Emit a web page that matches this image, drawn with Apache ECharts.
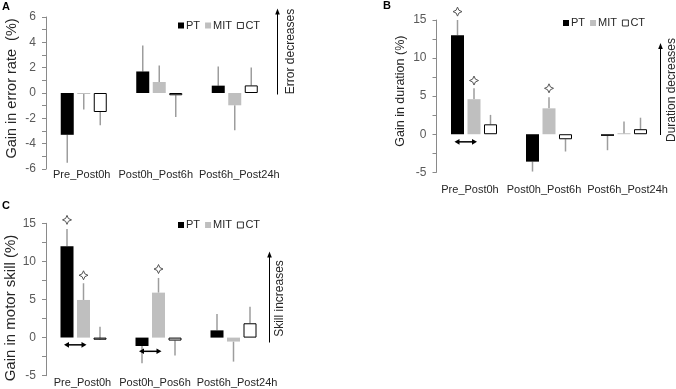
<!DOCTYPE html>
<html>
<head>
<meta charset="utf-8">
<script src="https://cdn.jsdelivr.net/npm/echarts@6/dist/echarts.min.js"></script>
<style>
  html, body { margin: 0; padding: 0; background: #fff; }
  #chart { width: 676px; height: 389px; }
</style>
</head>
<body>
<div id="chart"></div>
<script>
// categories
const catsAB = ['Pre_Post0h', 'Post0h_Post6h', 'Post6h_Post24h']
const catsC = ['Pre_Post0h', 'Post0h_Pos6h', 'Post6h_Post24h']
const groups = ['PT', 'MIT', 'CT']

// A: gain in error rate (bar value, end of error bar)
const errPT = [-3.3, 1.7, 0.58]
const errPTsd = [-5.5, 3.75, 2.1]
const errMIT = [-0.06, 0.87, -0.97]
const errMITsd = [-1.3, 2.18, -2.95]
const errCT = [-1.5, -0.18, 0.6]
const errCTsd = [-2.55, -1.9, 2.02]

// B: gain in duration
const durPT = [13.0, -3.6, -0.22]
const durPTsd = [15.0, -4.9, -2.1]
const durMIT = [4.6, 3.4, 0.06]
const durMITsd = [6.03, 4.85, 1.66]
const durCT = [1.3, -0.66, 0.66]
const durCTsd = [2.54, -2.27, 2.17]

// C: gain in motor skill
const sklPT = [12.0, -1.1, 0.95]
const sklPTsd = [14.25, -3.37, 3.1]
const sklMIT = [4.94, 5.9, -0.52]
const sklMITsd = [7.13, 7.83, -3.15]
const sklCT = [-0.28, -0.39, 1.88]
const sklCTsd = [1.44, -2.36, 4.05]

// significance stars: [category, group index, y]
const durStars = [[0, 0, 16.1], [0, 1, 7.05], [1, 1, 6.03]]
const sklStars = [[0, 0, 15.45], [0, 1, 8.18], [1, 1, 9.0]]
// PT vs MIT arrows: [category, y]
const durArrows = [[0, -1.0]]
const sklArrows = [[0, -0.95], [1, -1.8]]

const BAR_W = 13
const GAP = 3.5
const STRIDE = BAR_W + GAP
const FONT = 'Liberation Sans, Arial, sans-serif'
const colors = ['#000000', '#bfbfbf', '#ffffff']

function errorItem(params, api) {
  const cat = api.value(0)
  const k = api.value(1)
  const p0 = api.coord([cat, api.value(2)])
  const p1 = api.coord([cat, api.value(3)])
  const x = p0[0] + (k - 1) * STRIDE
  return {
    type: 'line',
    shape: { x1: x, y1: p0[1], x2: x, y2: p1[1] },
    style: { stroke: '#9d9d9d', lineWidth: 1.5 },
  }
}

function starItem(params, api) {
  const c = api.coord([api.value(0), api.value(2)])
  const cx = c[0] + (api.value(1) - 1) * STRIDE
  const cy = c[1]
  const R = 4.5, r = 1.4
  const pts = [
    [cx, cy - R], [cx + r, cy - r], [cx + R, cy], [cx + r, cy + r],
    [cx, cy + R], [cx - r, cy + r], [cx - R, cy], [cx - r, cy - r],
  ]
  return {
    type: 'polygon',
    shape: { points: pts },
    style: { fill: '#fff', stroke: '#555', lineWidth: 1 },
  }
}

function arrowItem(params, api) {
  const c = api.coord([api.value(0), api.value(1)])
  const x1 = c[0] - STRIDE - 3
  const x2 = c[0] + 3
  const y = c[1]
  return {
    type: 'group',
    children: [
      { type: 'line', shape: { x1: x1 + 3, y1: y, x2: x2 - 3, y2: y }, style: { stroke: '#000', lineWidth: 1.5 } },
      { type: 'polygon', shape: { points: [[x1, y], [x1 + 5, y - 2.8], [x1 + 5, y + 2.8]] }, style: { fill: '#000' } },
      { type: 'polygon', shape: { points: [[x2, y], [x2 - 5, y - 2.8], [x2 - 5, y + 2.8]] }, style: { fill: '#000' } },
    ],
  }
}

function panelSeries(idx, vals, sds, stars, arrows) {
  const out = []
  const errData = []
  vals.forEach((arr, k) => {
    out.push({
      name: groups[k],
      type: 'bar',
      xAxisIndex: idx,
      yAxisIndex: idx,
      data: arr,
      barWidth: BAR_W,
      barGap: (GAP / BAR_W * 100) + '%',
      barMinHeight: 1,
      z: 3,
      itemStyle: k === 2
        ? { color: '#fff', borderColor: '#000', borderWidth: 1 }
        : { color: colors[k] },
    })
    arr.forEach((v, c) => errData.push([c, k, v, sds[k][c]]))
  })
  out.push({
    type: 'custom', xAxisIndex: idx, yAxisIndex: idx, z: 1,
    renderItem: errorItem, data: errData, silent: true,
  })
  if (stars) {
    out.push({
      type: 'custom', xAxisIndex: idx, yAxisIndex: idx, z: 5,
      renderItem: starItem, data: stars, silent: true,
    })
  }
  if (arrows) {
    out.push({
      type: 'custom', xAxisIndex: idx, yAxisIndex: idx, z: 5,
      renderItem: arrowItem, data: arrows, silent: true,
    })
  }
  return out
}

// shift > 0 moves the title up along the axis
function yAx(idx, min, max, interval, name, nameSize, nameGap, shift) {
  const pad = shift > 0 ? [0, 0, 0, 2 * shift] : [0, -2 * shift, 0, 0]
  return {
    type: 'value',
    gridIndex: idx,
    min: min,
    max: max,
    interval: interval,
    name: name,
    nameLocation: 'middle',
    nameRotate: 90,
    nameGap: nameGap,
    nameTextStyle: { fontFamily: FONT, fontSize: nameSize, color: '#262626', padding: pad },
    axisLine: { show: true, lineStyle: { color: '#8a8a8a', width: 1 } },
    axisTick: { show: true, length: 4, lineStyle: { color: '#8a8a8a' } },
    minorTick: { show: true, splitNumber: 2, length: 4, lineStyle: { color: '#8a8a8a' } },
    splitLine: { show: false },
    axisLabel: { fontFamily: FONT, fontSize: 12, color: '#595959', margin: 10 },
  }
}

// shifts: horizontal nudge of each category label (px, + = right)
function xAx(idx, cats, margin, shifts) {
  return {
    type: 'category',
    gridIndex: idx,
    data: cats.map((c, i) => ({
      value: c,
      textStyle: { padding: shifts[i] > 0 ? [0, 0, 0, 2 * shifts[i]] : [0, -2 * shifts[i], 0, 0] },
    })),
    axisLine: { show: false, onZero: false },
    axisTick: { show: false },
    axisLabel: { fontFamily: FONT, fontSize: 11, color: '#262626', margin: margin, interval: 0 },
  }
}

function legendAt(left, top) {
  return {
    data: groups,
    left: left,
    top: top,
    padding: 0,
    icon: 'rect',
    itemWidth: 6,
    itemHeight: 6,
    itemGap: 5,
    itemStyle: { borderWidth: 0.8 },
    textStyle: { fontFamily: FONT, fontSize: 11, color: '#262626', padding: [0, 0, 0, -3] },
  }
}

function sideNote(x, y0, y1, tx, ty, text) {
  return [
    { type: 'line', shape: { x1: x, y1: y0 + 5, x2: x, y2: y1 }, style: { stroke: '#000', lineWidth: 1 } },
    { type: 'polygon', shape: { points: [[x, y0], [x - 2.3, y0 + 6], [x + 2.3, y0 + 6]] }, style: { fill: '#000' } },
    {
      type: 'text', x: tx, y: ty, rotation: Math.PI / 2,
      style: { text: text, font: '12px ' + FONT, fill: '#262626', align: 'center', verticalAlign: 'middle' },
    },
  ]
}

function letter(x, y, t) {
  return { type: 'text', x: x, y: y, style: { text: t, font: 'bold 11px ' + FONT, fill: '#000' } }
}

const option = {
  animation: false,
  backgroundColor: '#fff',
  grid: [
    { left: 46, top: 17, width: 226.5, height: 152 },
    { left: 436.5, top: 20, width: 225, height: 152.3 },
    { left: 46, top: 223.3, width: 225, height: 152.4 },
  ],
  xAxis: [
    xAx(0, catsAB, 0.5, [-2, -3.5, 4.5]),
    xAx(1, catsAB, 12.5, [-4, -5, 3.5]),
    xAx(2, catsC, 2, [-1, -3.5, 3.5]),
  ],
  yAxis: [
    yAx(0, -6, 6, 2, 'Gain in error rate  (%)', 14.5, 27, 4.5),
    yAx(1, -5, 15, 5, 'Gain in duration (%)', 12.5, 29, 5),
    yAx(2, -5, 15, 5, 'Gain in motor skill (%)', 15, 27, -8.5),
  ],
  legend: [legendAt(178, 20), legendAt(563, 17.5), legendAt(178, 219.5)],
  series: [
    ...panelSeries(0, [errPT, errMIT, errCT], [errPTsd, errMITsd, errCTsd]),
    ...panelSeries(1, [durPT, durMIT, durCT], [durPTsd, durMITsd, durCTsd], durStars, durArrows),
    ...panelSeries(2, [sklPT, sklMIT, sklCT], [sklPTsd, sklMITsd, sklCTsd], sklStars, sklArrows),
  ],
  graphic: [
    letter(2, 1, 'A'),
    letter(383, 0, 'B'),
    letter(2, 200, 'C'),
    ...sideNote(277.5, 8.5, 94.5, 291, 51.5, 'Error decreases'),
    ...sideNote(660.5, 43, 135, 671.5, 90, 'Duration decreases'),
    ...sideNote(269.5, 251.5, 342.5, 279.5, 298.5, 'Skill increases'),
  ],
}

const myChart = echarts.init(document.getElementById('chart'))
myChart.setOption(option)
window.addEventListener('resize', () => {
  myChart.resize()
})
</script>
</body>
</html>
